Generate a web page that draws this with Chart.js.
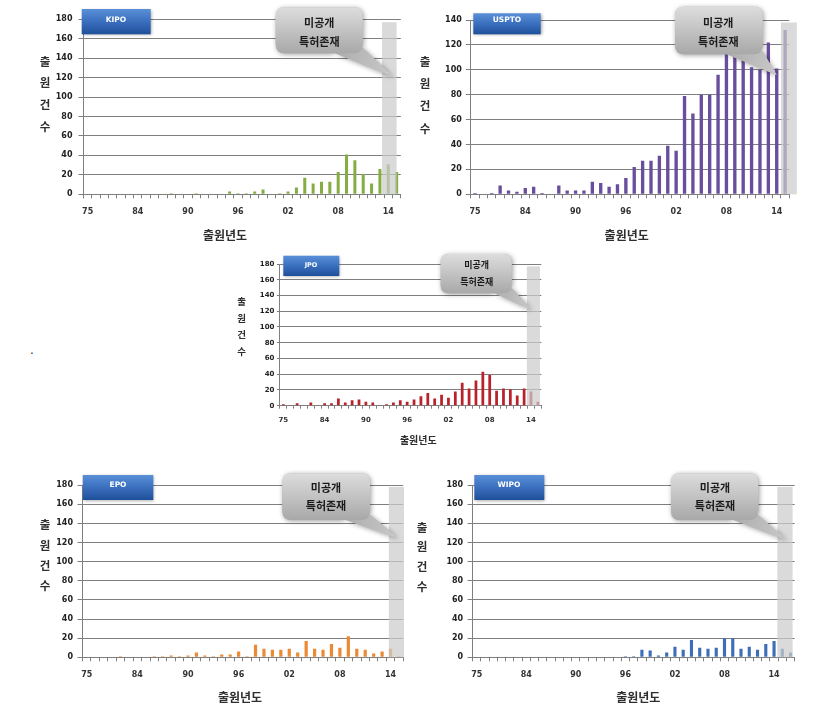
<!DOCTYPE html>
<html><head><meta charset="utf-8">
<script src="https://cdn.jsdelivr.net/npm/chart.js@4"></script>
<style>
html,body{margin:0;padding:0;background:#fff;width:822px;height:719px;overflow:hidden;position:relative;}
canvas{position:absolute;}
#dot{position:absolute;left:30px;top:343px;font:12px "DejaVu Sans",sans-serif;color:#333;}
</style></head><body>
<div id="dot">.</div>
<canvas id="kipo"></canvas>
<canvas id="uspto"></canvas>
<canvas id="jpo"></canvas>
<canvas id="epo"></canvas>
<canvas id="wipo"></canvas>
<script>
// ---------- data ----------
const categories = ['75','79','80','81','82','83','84','85','86','87','88','89','90','91','92','93','94','95','96','97','98','99','00','01','02','03','04','05','06','07','08','09','10','11','12','13','14','15'];
const categoriesWipo = ['75','79','80','81','82','83','84','85','86','87','88','89','90','91','92','93','94','95','96','97','98','99','00','01','02','03','04','05','06','07','08','09','10','11','12','13','14','15','16'];
const xTickLabels = ['75','84','90','96','02','08','14'];
const kipoValues  = [0,0,0,0,0,0,0,0,0,0,1,0,0,1,0,0,0,3,1,1,3,5,0,1,3,7,17,11,13,13,23,41,35,21,11,26,31,23];
const usptoValues = [1,0,1,7,3,2,5,6,1,0,7,3,3,3,10,9,6,8,13,22,27,27,31,39,35,79,65,80,80,96,114,112,109,102,100,122,101,132];
const jpoValues   = [2,1,3,0,4,1,3,3,9,4,7,8,5,4,1,2,4,7,5,8,12,16,9,14,10,18,29,22,32,43,39,19,22,21,13,22,18,5];
const epoValues   = [0,0,0,0,1,0,0,0,1,1,2,1,2,5,2,1,3,3,6,1,13,9,8,8,9,5,17,9,8,14,10,22,9,8,4,6,9,1];
const wipoValues  = [0,0,0,0,0,0,0,0,0,0,0,0,0,0,0,0,0,0,1,1,8,7,2,5,11,8,18,10,9,10,20,20,9,11,8,14,17,9,5];
const yAxisTitle = ['출','원','건','수'];
const xAxisTitle = '출원년도';
const calloutLines = ['미공개','특허존재'];

// ---------- layout / style ----------
const GRID = '#7f7f7f';
const TICKFONT = '"DejaVu Sans", Verdana, sans-serif';
const KFONT = '"Noto Sans CJK KR", "Noto Sans", sans-serif';

const panels = [
 {id:'kipo', name:'KIPO', labels:categories, values:kipoValues, color:'#84ad42', yMax:180,
  canvas:{x:30,y:0,w:380,h:245}, plot:{left:83.5,right:400.8,top:19.3,bottom:194.3},
  tickFs:8, yTickLen:5, yPad:6, xTickLen:4, xPad:9, barPct:0.36,
  shade:{from:35.25,to:37.0,top:177},
  logo:{x0:81.7,y0:9,x1:150.7,y1:34.3,tx:116,ty:20,fs:7.5},
  callout:{x0:275.7,y0:7.3,x1:362.7,y1:53.3,r:9,cx:319.3,ly:[22.7,41.7],fs:11,tip:[393.3,76.7],base:[[330,53.3],[361,48]]},
  ytitle:{x:45,ys:[62,82.5,105,127],fs:11.5}, xtitle:{x:225,y:235,fs:12}},
 {id:'uspto', name:'USPTO', labels:categories, values:usptoValues, color:'#6a4e9e', yMax:140,
  canvas:{x:415,y:0,w:400,h:245}, plot:{left:470.8,right:789.3,top:20,bottom:194.3},
  tickFs:8, yTickLen:5, yPad:4, xTickLen:4, xPad:9, barPct:0.4,
  shade:{from:36.5,to:38.4,top:138},
  logo:{x0:473.3,y0:13.3,x1:540.7,y1:34.3,tx:507,ty:20,fs:7.5},
  callout:{x0:675,y0:6.7,x1:762.7,y1:54.3,r:9,cx:718.3,ly:[22.7,42.3],fs:11,tip:[776.7,75],base:[[722,54.3],[760,49]]},
  ytitle:{x:425,ys:[61.7,83.3,106,128.3],fs:11.5}, xtitle:{x:626.7,y:235,fs:12}},
 {id:'jpo', name:'JPO', labels:categories, values:jpoValues, color:'#b8222a', yMax:180,
  canvas:{x:235,y:250,w:320,h:200}, plot:{left:279.9,right:541.3,top:264,bottom:405.7},
  tickFs:7, yTickLen:3, yPad:2.5, xTickLen:3, xPad:7, barPct:0.4,
  shade:{from:35.4,to:37.3,top:177},
  logo:{x0:283.3,y0:255.7,x1:339.3,y1:276,tx:311,ty:265,fs:6.5},
  callout:{x0:440.7,y0:254,x1:511.7,y1:293.3,r:8,cx:476.7,ly:[265,281.7],fs:9,tip:[531.7,310],base:[[490,293.3],[510,288]]},
  ytitle:{x:241.7,ys:[301.7,318.3,334.3,351],fs:9.5}, xtitle:{x:418.3,y:440,fs:10}},
 {id:'epo', name:'EPO', labels:categories, values:epoValues, color:'#eb8a32', yMax:180,
  canvas:{x:30,y:470,w:385,h:245}, plot:{left:82.5,right:403.2,top:485,bottom:657.3},
  tickFs:8, yTickLen:5, yPad:4.5, xTickLen:4, xPad:9, barPct:0.38,
  shade:{from:35.8,to:37.6,top:178},
  logo:{x0:82.7,y0:475,x1:153.3,y1:500,tx:118,ty:485,fs:7.5},
  callout:{x0:282.3,y0:473.3,x1:370,y1:520,r:9,cx:326,ly:[488.3,506],fs:11,tip:[398.3,538.3],base:[[340,520],[368,515]]},
  ytitle:{x:45,ys:[525,545.5,566,586],fs:11.5}, xtitle:{x:240,y:697.3,fs:12}},
 {id:'wipo', name:'WIPO', labels:categoriesWipo, values:wipoValues, color:'#3d6fb8', yMax:180,
  canvas:{x:410,y:470,w:405,h:245}, plot:{left:472.6,right:794.7,top:485,bottom:657.3},
  tickFs:8, yTickLen:5, yPad:4.5, xTickLen:4, xPad:9, barPct:0.38,
  shade:{from:36.4,to:38.25,top:178},
  logo:{x0:474.3,y0:475,x1:544.3,y1:500,tx:509,ty:485,fs:7.5},
  callout:{x0:671,y0:473.3,x1:758.3,y1:520,r:9,cx:715,ly:[488.3,506],fs:11,tip:[786.7,540],base:[[728,520],[756,515]]},
  ytitle:{x:422,ys:[528,547,567,587],fs:11.5}, xtitle:{x:638.3,y:697.3,fs:12}}
];

function roundRectPath(ctx,x0,y0,x1,y1,r){
  ctx.moveTo(x0+r,y0); ctx.lineTo(x1-r,y0); ctx.quadraticCurveTo(x1,y0,x1,y0+r);
  ctx.lineTo(x1,y1-r); ctx.quadraticCurveTo(x1,y1,x1-r,y1);
  ctx.lineTo(x0+r,y1); ctx.quadraticCurveTo(x0,y1,x0,y1-r);
  ctx.lineTo(x0,y0+r); ctx.quadraticCurveTo(x0,y0,x0+r,y0); ctx.closePath();
}

function drawLogo(ctx,p){
  const L=p.logo;
  ctx.save();
  ctx.shadowColor='rgba(0,0,0,0.35)'; ctx.shadowBlur=3; ctx.shadowOffsetX=1; ctx.shadowOffsetY=1;
  const g=ctx.createLinearGradient(0,L.y0,0,L.y1);
  g.addColorStop(0,'#5a8fd8'); g.addColorStop(0.5,'#3a6fbe'); g.addColorStop(1,'#1f4f9a');
  ctx.fillStyle=g; ctx.fillRect(L.x0,L.y0,L.x1-L.x0,L.y1-L.y0);
  ctx.restore();
  ctx.save();
  ctx.fillStyle='#ffffff'; ctx.font='bold '+L.fs+'px '+TICKFONT;
  ctx.textAlign='center'; ctx.textBaseline='middle';
  ctx.fillText(p.name,L.tx,L.ty);
  ctx.restore();
}

function drawCallout(ctx,p){
  const c=p.callout;
  ctx.save();
  ctx.shadowColor='rgba(0,0,0,0.4)'; ctx.shadowBlur=5; ctx.shadowOffsetX=1; ctx.shadowOffsetY=1;
  ctx.beginPath();
  roundRectPath(ctx,c.x0,c.y0,c.x1,c.y1,c.r);
  ctx.moveTo(c.base[0][0],c.base[0][1]-2); ctx.lineTo(c.tip[0],c.tip[1]); ctx.lineTo(c.base[1][0],c.base[1][1]-2); ctx.closePath();
  ctx.fillStyle='#b8b8b8'; ctx.fill();
  ctx.restore();
  ctx.save();
  const tg=ctx.createLinearGradient(c.base[0][0],c.y1,c.tip[0],c.tip[1]);
  tg.addColorStop(0,'#ababab'); tg.addColorStop(1,'#c9c9c9');
  ctx.fillStyle=tg;
  ctx.beginPath(); ctx.moveTo(c.base[0][0],c.base[0][1]-2); ctx.lineTo(c.tip[0],c.tip[1]); ctx.lineTo(c.base[1][0],c.base[1][1]-2); ctx.closePath(); ctx.fill();
  const g=ctx.createLinearGradient(0,c.y0,0,c.y1);
  g.addColorStop(0,'#dddddd'); g.addColorStop(1,'#a8a8a8');
  ctx.fillStyle=g; ctx.beginPath(); roundRectPath(ctx,c.x0,c.y0,c.x1,c.y1,c.r); ctx.fill();
  ctx.fillStyle='#1a1a1a'; ctx.font='bold '+c.fs+'px '+KFONT; ctx.textAlign='center'; ctx.textBaseline='middle';
  ctx.fillText(calloutLines[0],c.cx,c.ly[0]);
  ctx.fillText(calloutLines[1],c.cx,c.ly[1]);
  ctx.restore();
}

function drawTitles(ctx,p){
  ctx.save();
  ctx.fillStyle='#2e2e2e'; ctx.textAlign='center'; ctx.textBaseline='middle';
  ctx.font='bold '+p.ytitle.fs+'px '+KFONT;
  yAxisTitle.forEach((ch,i)=>ctx.fillText(ch,p.ytitle.x,p.ytitle.ys[i]));
  ctx.font='bold '+p.xtitle.fs+'px '+KFONT;
  ctx.fillText(xAxisTitle,p.xtitle.x,p.xtitle.y);
  ctx.restore();
}

function overlayPlugin(p){
  return {
    id:'overlay_'+p.id,
    afterDatasetsDraw(chart){
      const xs=chart.scales.x, ys=chart.scales.y, ctx=chart.ctx;
      const x0=xs.getPixelForValue(0), step=xs.getPixelForValue(1)-x0;
      const l=x0+p.shade.from*step, r=x0+p.shade.to*step;
      const t=ys.getPixelForValue(p.shade.top), b=ys.getPixelForValue(0);
      ctx.save(); ctx.fillStyle='rgba(204,204,204,0.72)'; ctx.fillRect(l,t,r-l,b-t); ctx.restore();
    },
    afterDraw(chart){
      const ctx=chart.ctx;
      ctx.save(); ctx.translate(-p.canvas.x,-p.canvas.y);
      drawTitles(ctx,p); drawLogo(ctx,p); drawCallout(ctx,p);
      ctx.restore();
    }
  };
}

function makePanel(p){
  const cv=document.getElementById(p.id);
  cv.width=p.canvas.w; cv.height=p.canvas.h;
  cv.style.left=p.canvas.x+'px'; cv.style.top=p.canvas.y+'px';
  cv.style.width=p.canvas.w+'px'; cv.style.height=p.canvas.h+'px';
  const padTop=p.plot.top-p.canvas.y;
  const padRight=p.canvas.x+p.canvas.w-p.plot.right;
  const yW=p.plot.left-p.canvas.x;
  const xH=p.canvas.y+p.canvas.h-p.plot.bottom;
  new Chart(cv,{
    type:'bar',
    data:{labels:p.labels,datasets:[{data:p.values,backgroundColor:p.color,borderWidth:0,barPercentage:p.barPct,categoryPercentage:1}]},
    options:{
      responsive:false, animation:false, devicePixelRatio:1,
      layout:{padding:{top:padTop,right:padRight,left:0,bottom:0}},
      plugins:{legend:{display:false},tooltip:{enabled:false},title:{display:false}},
      scales:{
        x:{
          grid:{display:true,drawOnChartArea:false,drawTicks:true,tickLength:p.xTickLen,color:GRID,offset:true},
          border:{display:true,color:GRID},
          ticks:{autoSkip:false,maxRotation:0,minRotation:0,padding:p.xPad,color:'#333',
                 font:{family:TICKFONT,size:p.tickFs,weight:'bold'},
                 callback:(v,i)=> xTickLabels.includes(p.labels[i]) ? p.labels[i] : ''},
          afterFit:(s)=>{s.height=xH;}
        },
        y:{
          min:0,max:p.yMax,
          ticks:{stepSize:20,padding:p.yPad,color:'#222',font:{family:TICKFONT,size:p.tickFs,weight:'bold'}},
          grid:{color:GRID,tickLength:p.yTickLen,drawTicks:true},
          border:{display:true,color:GRID},
          afterFit:(s)=>{s.width=yW;}
        }
      }
    },
    plugins:[overlayPlugin(p)]
  });
}
panels.forEach(makePanel);
</script>
</body></html>
